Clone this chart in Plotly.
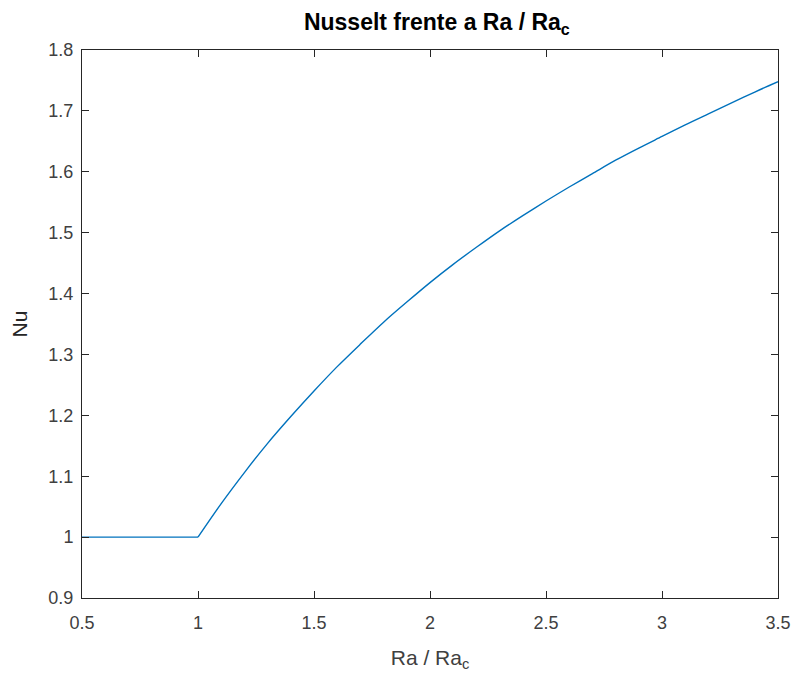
import plotly.graph_objects as go

# Rayleigh ratio Ra/Ra_c and the corresponding Nusselt number
ra_ratio = [0.5, 1.0, 1.1, 1.2, 1.3, 1.4, 1.5, 1.6, 1.7, 1.8, 1.9, 2.0,
            2.1, 2.2, 2.3, 2.4, 2.5, 2.6, 2.7, 2.8, 2.9, 3.0, 3.1, 3.2,
            3.3, 3.4, 3.5]
nusselt = [1.000, 1.000, 1.055, 1.106, 1.154, 1.198, 1.240, 1.280, 1.317,
           1.353, 1.386, 1.418, 1.448, 1.476, 1.503, 1.528, 1.552, 1.575,
           1.597, 1.619, 1.639, 1.658, 1.677, 1.695, 1.713, 1.731, 1.748]

x_ticks = [0.5, 1, 1.5, 2, 2.5, 3, 3.5]
x_tick_text = ["0.5", "1", "1.5", "2", "2.5", "3", "3.5"]
y_ticks = [0.9, 1.0, 1.1, 1.2, 1.3, 1.4, 1.5, 1.6, 1.7, 1.8]
y_tick_text = ["0.9", "1", "1.1", "1.2", "1.3", "1.4", "1.5", "1.6", "1.7", "1.8"]

FONT = "Liberation Sans, Arial, sans-serif"
AXIS_COLOR = "#262626"
TEXT_GRAY = "#404040"
LINE_COLOR = "#0072BD"

# conduction regime (flat) and convection regime (rising) share the same data
onset = ra_ratio.index(1.0)

fig = go.Figure()
fig.add_trace(go.Scatter(
    x=ra_ratio[:onset + 1], y=nusselt[:onset + 1], mode="lines",
    line=dict(color=LINE_COLOR, width=1.4),
    showlegend=False, hoverinfo="x+y",
))
fig.add_trace(go.Scatter(
    x=ra_ratio[onset:], y=nusselt[onset:], mode="lines",
    line=dict(color=LINE_COLOR, width=1.4, shape="spline", smoothing=0.8),
    showlegend=False, hoverinfo="x+y",
))

axis_common = dict(
    showgrid=False, zeroline=False,
    showline=True, linecolor=AXIS_COLOR, linewidth=1, mirror="ticks",
    ticks="inside", ticklen=7, tickwidth=1, tickcolor=AXIS_COLOR,
    tickfont=dict(family=FONT, size=18, color=TEXT_GRAY),
)

fig.update_xaxes(
    range=[0.5, 3.5], tickvals=x_ticks, ticktext=x_tick_text,
    ticklabelstandoff=8,
    title=dict(text="Ra / Ra<sub>c</sub>", standoff=18,
               font=dict(family=FONT, size=21, color=TEXT_GRAY)),
    **axis_common,
)
fig.update_yaxes(
    range=[0.9, 1.8], tickvals=y_ticks, ticktext=y_tick_text,
    ticklabelstandoff=4,
    title=dict(text="Nu", standoff=15,
               font=dict(family=FONT, size=21, color=AXIS_COLOR)),
    **axis_common,
)

fig.update_layout(
    width=803, height=677,
    margin=dict(l=82, r=18, t=50, b=78),
    paper_bgcolor="white", plot_bgcolor="white",
    title=dict(
        text="<b>Nusselt frente a Ra / Ra<sub>c</sub></b>",
        x=0.544, xanchor="center", y=0.967, yanchor="middle",
        font=dict(family=FONT, size=23, color="#000000"),
    ),
)

fig.write_html("out.html")
